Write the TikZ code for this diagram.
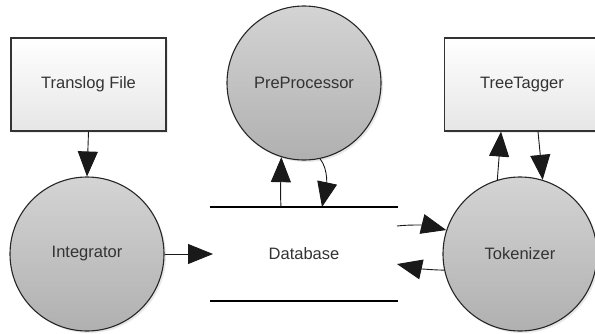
\documentclass[tikz,border=0pt]{standalone}
\usepackage{fontspec}
\setmainfont{Liberation Sans}
\usetikzlibrary{arrows.meta,calc,shadows}
\definecolor{txt}{HTML}{333333}
\definecolor{circtop}{HTML}{D4D4D4}
\definecolor{circbot}{HTML}{B0B0B0}
\definecolor{boxbot}{HTML}{E6E6E6}
\tikzset{
  lbl/.style={font=\fontsize{16.5}{19}\selectfont, text=txt},
  proc/.style={circle, draw=black!85, line width=1.1pt, minimum size=154pt, inner sep=0pt,
    top color=circtop, bottom color=circbot, lbl,
    drop shadow={opacity=0.18, shadow xshift=2pt, shadow yshift=-2pt}},
  ext/.style={rectangle, draw=black!80, line width=1.1pt, minimum width=155pt, minimum height=93pt,
    top color=white, bottom color=boxbot, lbl,
    drop shadow={opacity=0.15, shadow xshift=2pt, shadow yshift=-2pt}},
  flow/.style={draw=black!90, line width=0.9pt, -{Triangle[length=25pt,width=20pt]}},
  store/.style={draw=black, line width=2.6pt}
}
\begin{document}
\begin{tikzpicture}[x=1pt,y=-1pt]
\useasboundingbox (0,0) rectangle (595,333);
\fill[white] (0,0) rectangle (595,333);
\node[ext] (trans) at (88.5,84.5) {Translog File};
\node[ext] (treet) at (522,84.5) {TreeTagger};
\node[proc] (pre) at (304,83) {PreProcessor};
\node[proc] (integ) at (87,254) {Integrator};
\node[proc] (tok) at (520,254) {Tokenizer};
\node[lbl] (db) at (304,254) {Database};
\coordinate (dbTL) at (210,207);
\coordinate (dbTR) at (398,207);
\coordinate (dbBL) at (210,301);
\coordinate (dbBR) at (398,301);
\coordinate (dbIn) at (213,254);
\coordinate (dbUp) at (281,207);
\coordinate (dbDown) at (322,207);
\coordinate (dbOut) at (397,226);
\coordinate (dbRet) at (397,264);
\draw[store] (dbTL) -- (dbTR);
\draw[store] (dbBL) -- (dbBR);
\draw[flow] (trans.south) -- (integ.north);
\draw[flow] (integ.east) -- (dbIn);
\draw[flow] (dbUp) .. controls (280,190) and (281,175) .. (pre.253);
\draw[flow] (pre.282) .. controls (329,170) and (326,188) .. (dbDown);
\draw[flow] (dbOut) .. controls (415,224) and (430,226) .. (tok.162);
\draw[flow] (tok.192) .. controls (430,270) and (415,268) .. (dbRet);
\draw[flow] (tok.107) -- ($(treet.south)+(-21,0)$);
\draw[flow] ($(treet.south)+(16,0)$) -- (tok.73);
\end{tikzpicture}
\end{document}
